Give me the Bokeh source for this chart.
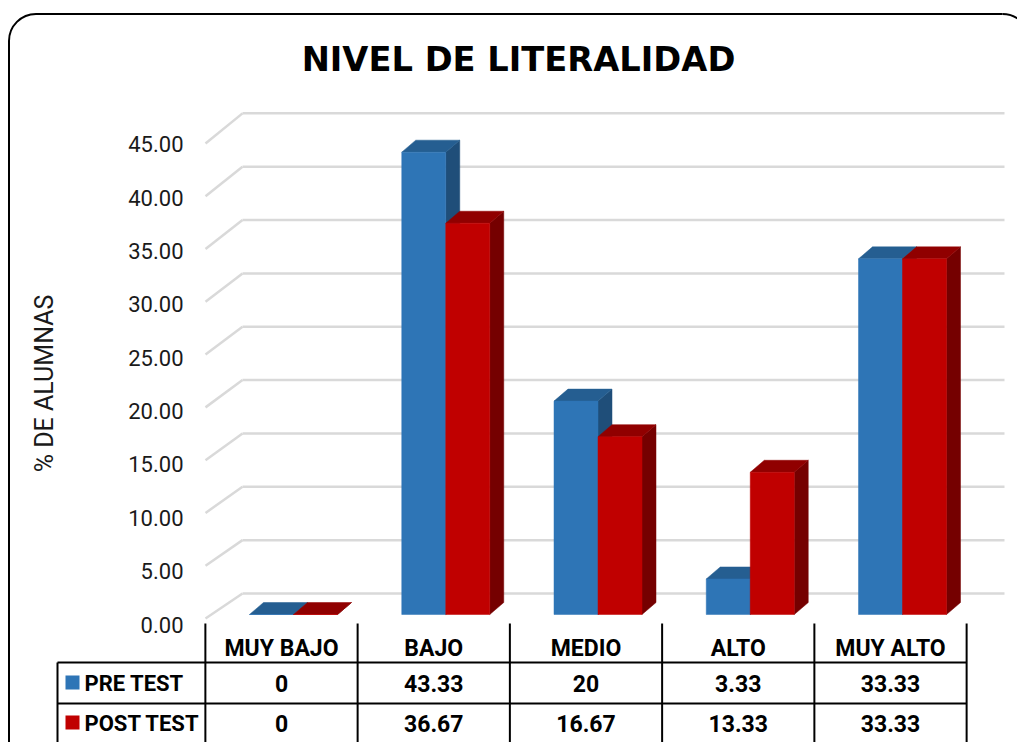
from bokeh.plotting import figure
from bokeh.models import Range1d
from bokeh.core.properties import value
from bokeh.embed import file_html
from bokeh.resources import INLINE
import math

# ---------------- data ----------------
categories = ["MUY BAJO", "BAJO", "MEDIO", "ALTO", "MUY ALTO"]
series_names = ["PRE TEST", "POST TEST"]
pre_test = [0, 43.33, 20, 3.33, 33.33]
post_test = [0, 36.67, 16.67, 13.33, 33.33]
pre_labels = ["0", "43.33", "20", "3.33", "33.33"]
post_labels = ["0", "36.67", "16.67", "13.33", "33.33"]
y_ticks = [0, 5, 10, 15, 20, 25, 30, 35, 40, 45]
y_tick_labels = ["0.00", "5.00", "10.00", "15.00", "20.00", "25.00", "30.00", "35.00", "40.00", "45.00"]
title_text = "NIVEL DE LITERALIDAD"
y_label = "% DE ALUMNAS"

# ---------------- layout / style ----------------
W, H = 1017, 742
PXC = 152.25      # pixels per category
PXV = 10.67       # pixels per percent
CAT0 = 281.0      # pixel x of first category centre
ZERO_BACK = 593.0 # pixel y of 0 on the back wall

def X(px):
    return (px - CAT0) / PXC

def Y(py):
    return (ZERO_BACK - py) / PXV

NARROW = value("Roboto")
BLUE = ["#2E75B6", "#255E91", "#1F4E79"]   # front, top, side
RED = ["#C00000", "#900000", "#750000"]
GRID = "#D9D9D9"

p = figure(width=W, height=H, output_backend="svg", toolbar_location=None,
           x_range=Range1d(X(0), X(W)), y_range=Range1d(Y(H), Y(0)),
           x_axis_location=None, y_axis_location=None, min_border=0,
           background_fill_color="white", border_fill_color="white")
p.outline_line_color = None
p.grid.visible = False

# ---------------- walls / gridlines ----------------
back_left, back_right, front_left = X(242), X(1004), X(205)
p.segment(x0=[back_left] * len(y_ticks), x1=[back_right] * len(y_ticks),
          y0=y_ticks, y1=y_ticks, line_color=GRID, line_width=2.5)
front_y = [Y(618 - t * 10.556) for t in y_ticks]
p.segment(x0=[front_left] * len(y_ticks), x1=[back_left] * len(y_ticks),
          y0=front_y, y1=y_ticks, line_color=GRID, line_width=2.5)

# tick labels
p.text(x=[X(183)] * len(y_ticks), y=[t - 31 / PXV for t in y_ticks], text=y_tick_labels,
       text_font=NARROW, text_font_size=value("22px"), text_align="right",
       text_baseline="middle", text_color="#1a1a1a")

# ---------------- 3D bars ----------------
BW = 44 / PXC
SHIFT = 12 / PXC
DX = 14 / PXC
DY = 12 / PXV
BASE = Y(614)

for s, (vals, cols) in enumerate([(pre_test, BLUE), (post_test, RED)]):
    lefts = [i + SHIFT + (s - 1) * BW for i in range(len(categories))]
    rights = [l + BW for l in lefts]
    tops = [BASE + v for v in vals]
    side_xs = [[r, r + DX, r + DX, r] for r in rights]
    side_ys = [[BASE, BASE + DY, t + DY, t] for t in tops]
    top_xs = [[l, r, r + DX, l + DX] for l, r in zip(lefts, rights)]
    top_ys = [[t, t, t + DY, t + DY] for t in tops]
    p.patches(xs=side_xs, ys=side_ys, fill_color=cols[2], line_color=cols[2], line_width=0.5)
    p.patches(xs=top_xs, ys=top_ys, fill_color=cols[1], line_color=cols[1], line_width=0.5)
    p.quad(left=lefts, right=rights, bottom=[BASE] * len(vals), top=tops,
           fill_color=cols[0], line_color=cols[0], line_width=0.5)

# ---------------- data table ----------------
n = len(categories)
TABLE_TOP, ROW1, ROW2, BOTTOM = Y(623), Y(662), Y(703), Y(H + 10)
col_edges = [i - 0.5 for i in range(n + 1)]
p.segment(x0=col_edges, x1=col_edges, y0=[TABLE_TOP] * (n + 1), y1=[BOTTOM] * (n + 1),
          line_color="black", line_width=2)
p.segment(x0=[X(57)] * 2, x1=[n - 0.5] * 2, y0=[ROW1, ROW2], y1=[ROW1, ROW2],
          line_color="black", line_width=2)
p.segment(x0=[X(57)], x1=[X(57)], y0=[ROW1], y1=[BOTTOM], line_color="black", line_width=2)

cat_x = list(range(n))
cell_style = dict(text_font=NARROW, text_font_style="bold", text_font_size=value("23px"),
                  text_align="center", text_baseline="middle", text_color="black")
p.text(x=cat_x, y=[Y(648)] * n, text=categories, **cell_style)
p.text(x=cat_x, y=[Y(683)] * n, text=pre_labels, **cell_style)
p.text(x=cat_x, y=[Y(723)] * n, text=post_labels, **cell_style)

# series labels with legend keys
p.scatter(x=[X(72)] * 2, y=[Y(682), Y(722)], marker="square", size=14,
          fill_color=[BLUE[0], RED[0]], line_color=None)
p.text(x=[X(84)] * 2, y=[Y(683), Y(723)], text=series_names, text_font=NARROW,
       text_font_style="bold", text_font_size=value("22px"), text_align="left",
       text_baseline="middle", text_color="black")

# ---------------- titles ----------------
p.text(x=[X(518)], y=[Y(59)], text=[title_text], text_font=value("DejaVu Sans"),
       text_font_style="bold", text_font_size=value("33.7px"), text_align="center",
       text_baseline="middle", text_color="black")
p.text(x=[X(44)], y=[Y(383)], text=[y_label], angle=math.pi / 2, text_font=NARROW,
       text_font_size=value("25px"), text_align="center", text_baseline="middle",
       text_color="#1a1a1a")

# ---------------- rounded chart border ----------------
R = 27
p.segment(x0=[X(8.5 + R), X(8.5)], x1=[X(1002), X(8.5)],
          y0=[Y(13.5), Y(13.5 + R)], y1=[Y(13.5), Y(760)], line_color="black", line_width=2)
p.arc(x=[X(8.5 + R), X(1002)], y=[Y(13.5 + R)] * 2, radius=R, radius_units="screen",
      start_angle=[math.pi / 2, 0], end_angle=[math.pi, math.pi / 2],
      line_color="black", line_width=2)

open("out.html", "w").write(file_html(p, INLINE))
